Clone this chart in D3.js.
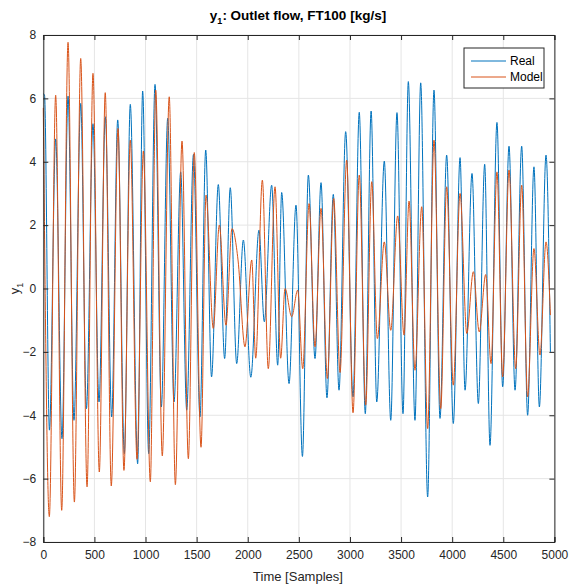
<!DOCTYPE html>
<html>
<head>
<meta charset="utf-8">
<script src="https://cdn.jsdelivr.net/npm/d3@7"></script>
<style>
  html, body { margin: 0; padding: 0; background: #fff; }
  svg { display: block; font-family: "Liberation Sans", Arial, Helvetica, sans-serif; }
</style>
</head>
<body>
<svg id="chart" width="569" height="587"></svg>
<script>
// Outlet flow FT100: measured signal vs. model response (turning points per cycle)
const realSamples = [0, 12, 60, 121, 183, 242, 300, 366, 422, 486, 545, 607, 669, 728, 793, 851, 923, 972, 1031, 1093,
  1155, 1217, 1279, 1344, 1403, 1469, 1533, 1589, 1646, 1712, 1774, 1829, 1892, 1957, 2030, 2110, 2162, 2234, 2293, 2332,
  2404, 2472, 2535, 2593, 2658, 2717, 2775, 2837, 2893, 2958, 3030, 3091, 3150, 3207, 3262, 3336, 3399, 3460, 3519, 3571,
  3636, 3692, 3760, 3822, 3881, 3946, 4011, 4077, 4126, 4194, 4256, 4318, 4370, 4438, 4494, 4556, 4615, 4680, 4738, 4800,
  4853, 4918, 4961];
const realValues = [6.15, 6.1, -4.47, 4.72, -4.74, 6.07, -4.16, 5.84, -3.79, 5.2, -3.58, 5.42, -4.05, 5.32, -5.21, 5.81, -5.53, 6.23, -5.21, 6.44,
  -3.74, 5.37, -3.58, 3.68, -3.84, 4.23, -4.05, 4.37, -2.79, 3.28, -2.21, 3.18, -2.37, 1.53, -2.8, 1.84, -1.05, 3.26, -2.42, 3.03,
  -3.0, 2.63, -5.3, 3.58, -2.21, 3.34, -3.45, 2.97, -3.21, 4.95, -3.42, 5.56, -3.95, 5.6, -3.58, 4.02, -4.16, 5.55, -3.95, 6.53,
  -4.16, 6.49, -6.58, 6.26, -4.1, 4.21, -4.26, 4.13, -3.21, 3.63, -3.63, 3.92, -4.95, 5.24, -3.1, 4.49, -3.21, 4.49, -4.0, 3.84,
  -3.74, 4.21, -2.0];

const modelSamples = [0, 59, 121, 180, 242, 304, 366, 428, 486, 548, 606, 665, 731, 789, 851, 917, 979, 1047, 1100, 1164,
  1232, 1292, 1357, 1419, 1477, 1543, 1592, 1663, 1722, 1787, 1846, 1905, 1973, 2039, 2078, 2143, 2201, 2267, 2322, 2365,
  2430, 2489, 2538, 2600, 2658, 2717, 2779, 2841, 2903, 2968, 3030, 3091, 3154, 3213, 3268, 3336, 3399, 3467, 3529, 3578,
  3636, 3702, 3760, 3822, 3888, 3946, 4011, 4077, 4143, 4207, 4265, 4328, 4380, 4438, 4494, 4556, 4621, 4680, 4738, 4800,
  4859, 4918, 4961];
const modelValues = [5.7, -7.2, 6.1, -7.0, 7.77, -6.74, 7.26, -6.26, 6.79, -5.79, 6.18, -6.23, 5.05, -5.74, 4.68, -5.39, 4.34, -6.1, 6.26, -5.28,
  6.05, -6.19, 4.65, -5.37, 4.29, -5.01, 2.95, -1.26, 2.0, -1.16, 1.89, 0.9, -1.84, 0.9, -2.2, 3.42, -2.53, 3.21, -2.2, 0.0,
  -0.89, -0.05, -2.53, 2.68, -1.84, 2.53, -2.84, 2.84, -2.65, 4.05, -3.92, 3.58, -3.68, 3.37, -1.58, 1.47, -1.32, 2.29, -1.47, 2.76,
  -2.58, 2.58, -4.42, 4.68, -3.79, 3.21, -3.05, 3.0, -1.42, 0.53, -1.37, 0.44, -2.37, 3.68, -2.79, 3.74, -2.53, 3.26, -3.42, 1.26,
  -2.1, 1.47, -0.84];

const xTicks = [0, 500, 1000, 1500, 2000, 2500, 3000, 3500, 4000, 4500, 5000];
const yTicks = [-8, -6, -4, -2, 0, 2, 4, 6, 8];
const seriesNames = ["Real", "Model"];
const seriesColors = ["#0072BD", "#D95319"];

const svg = d3.select("#chart");
const plotLeft = 43.3, plotRight = 554.4, plotTop = 35, plotBottom = 542;

const x = d3.scaleLinear().domain([0, 5000]).range([plotLeft, plotRight]);
const y = d3.scaleLinear().domain([-8, 8]).range([plotBottom, plotTop]);

// grid
const grid = svg.append("g");
grid.selectAll(".gx").data(xTicks).join("line")
  .attr("x1", d => x(d)).attr("x2", d => x(d)).attr("y1", plotTop).attr("y2", plotBottom)
  .attr("stroke", "#e5e5e5").attr("stroke-width", 1);
grid.selectAll(".gy").data(yTicks).join("line")
  .attr("x1", plotLeft).attr("x2", plotRight).attr("y1", d => y(d)).attr("y2", d => y(d))
  .attr("stroke", "#e5e5e5").attr("stroke-width", 1);

// series
const line = d3.line().curve(d3.curveMonotoneX).x(d => x(d[0])).y(d => y(d[1]));
const series = [d3.zip(realSamples, realValues), d3.zip(modelSamples, modelValues)];
series.forEach((pts, i) => {
  svg.append("path").datum(pts)
    .attr("d", line).attr("fill", "none")
    .attr("stroke", seriesColors[i]).attr("stroke-width", 1);
});

// axes (ticks pointing inward, box on all sides)
const axisColor = "#262626";
const fmt = d3.format("d");
const bottomAxis = d3.axisBottom(x).tickValues(xTicks).tickFormat(fmt).tickSize(-5).tickPadding(8);
const leftAxis = d3.axisLeft(y).tickValues(yTicks).tickFormat(fmt).tickSize(-5).tickPadding(7);
const topAxis = d3.axisTop(x).tickValues(xTicks).tickSize(-5).tickFormat("");
const rightAxis = d3.axisRight(y).tickValues(yTicks).tickSize(-5).tickFormat("");

function style(g) {
  g.select(".domain").attr("stroke", axisColor);
  g.selectAll(".tick line").attr("stroke", axisColor);
  g.selectAll(".tick text").attr("fill", "#262626").style("font-size", "12px")
    .style("font-family", '"Liberation Sans", Arial, sans-serif');
}
svg.append("g").attr("transform", `translate(0,${plotBottom})`).call(bottomAxis).call(style);
svg.append("g").attr("transform", `translate(${plotLeft},0)`).call(leftAxis).call(style);
svg.append("g").attr("transform", `translate(0,${plotTop})`).call(topAxis).call(style);
svg.append("g").attr("transform", `translate(${plotRight},0)`).call(rightAxis).call(style);

// title
const title = svg.append("text").attr("x", 298).attr("y", 20).attr("text-anchor", "middle")
  .attr("font-weight", "bold").attr("font-size", "13.5px").attr("fill", "#000");
title.append("tspan").text("y");
title.append("tspan").attr("font-size", "9px").attr("dy", 4).text("1");
title.append("tspan").attr("dy", -4).text(": Outlet flow, FT100 [kg/s]");

// axis labels
svg.append("text").attr("x", 298).attr("y", 581).attr("text-anchor", "middle")
  .attr("font-size", "13px").attr("fill", "#262626").text("Time [Samples]");
const yl = svg.append("text").attr("transform", `translate(19,${y(0)}) rotate(-90)`)
  .attr("text-anchor", "middle").attr("font-size", "13px").attr("fill", "#262626");
yl.append("tspan").text("y");
yl.append("tspan").attr("font-size", "9px").attr("dy", 4).text("1");

// legend
const lg = svg.append("g").attr("transform", "translate(464,48)");
lg.append("rect").attr("width", 80).attr("height", 40).attr("fill", "#fff")
  .attr("stroke", "#262626").attr("stroke-width", 1);
seriesNames.forEach((name, i) => {
  const yy = 13 + i * 16;
  lg.append("line").attr("x1", 7).attr("x2", 42).attr("y1", yy).attr("y2", yy)
    .attr("stroke", seriesColors[i]).attr("stroke-width", 1);
  lg.append("text").attr("x", 46).attr("y", yy + 4).attr("font-size", "12px")
    .attr("fill", "#000").text(name);
});
</script>
</body>
</html>
